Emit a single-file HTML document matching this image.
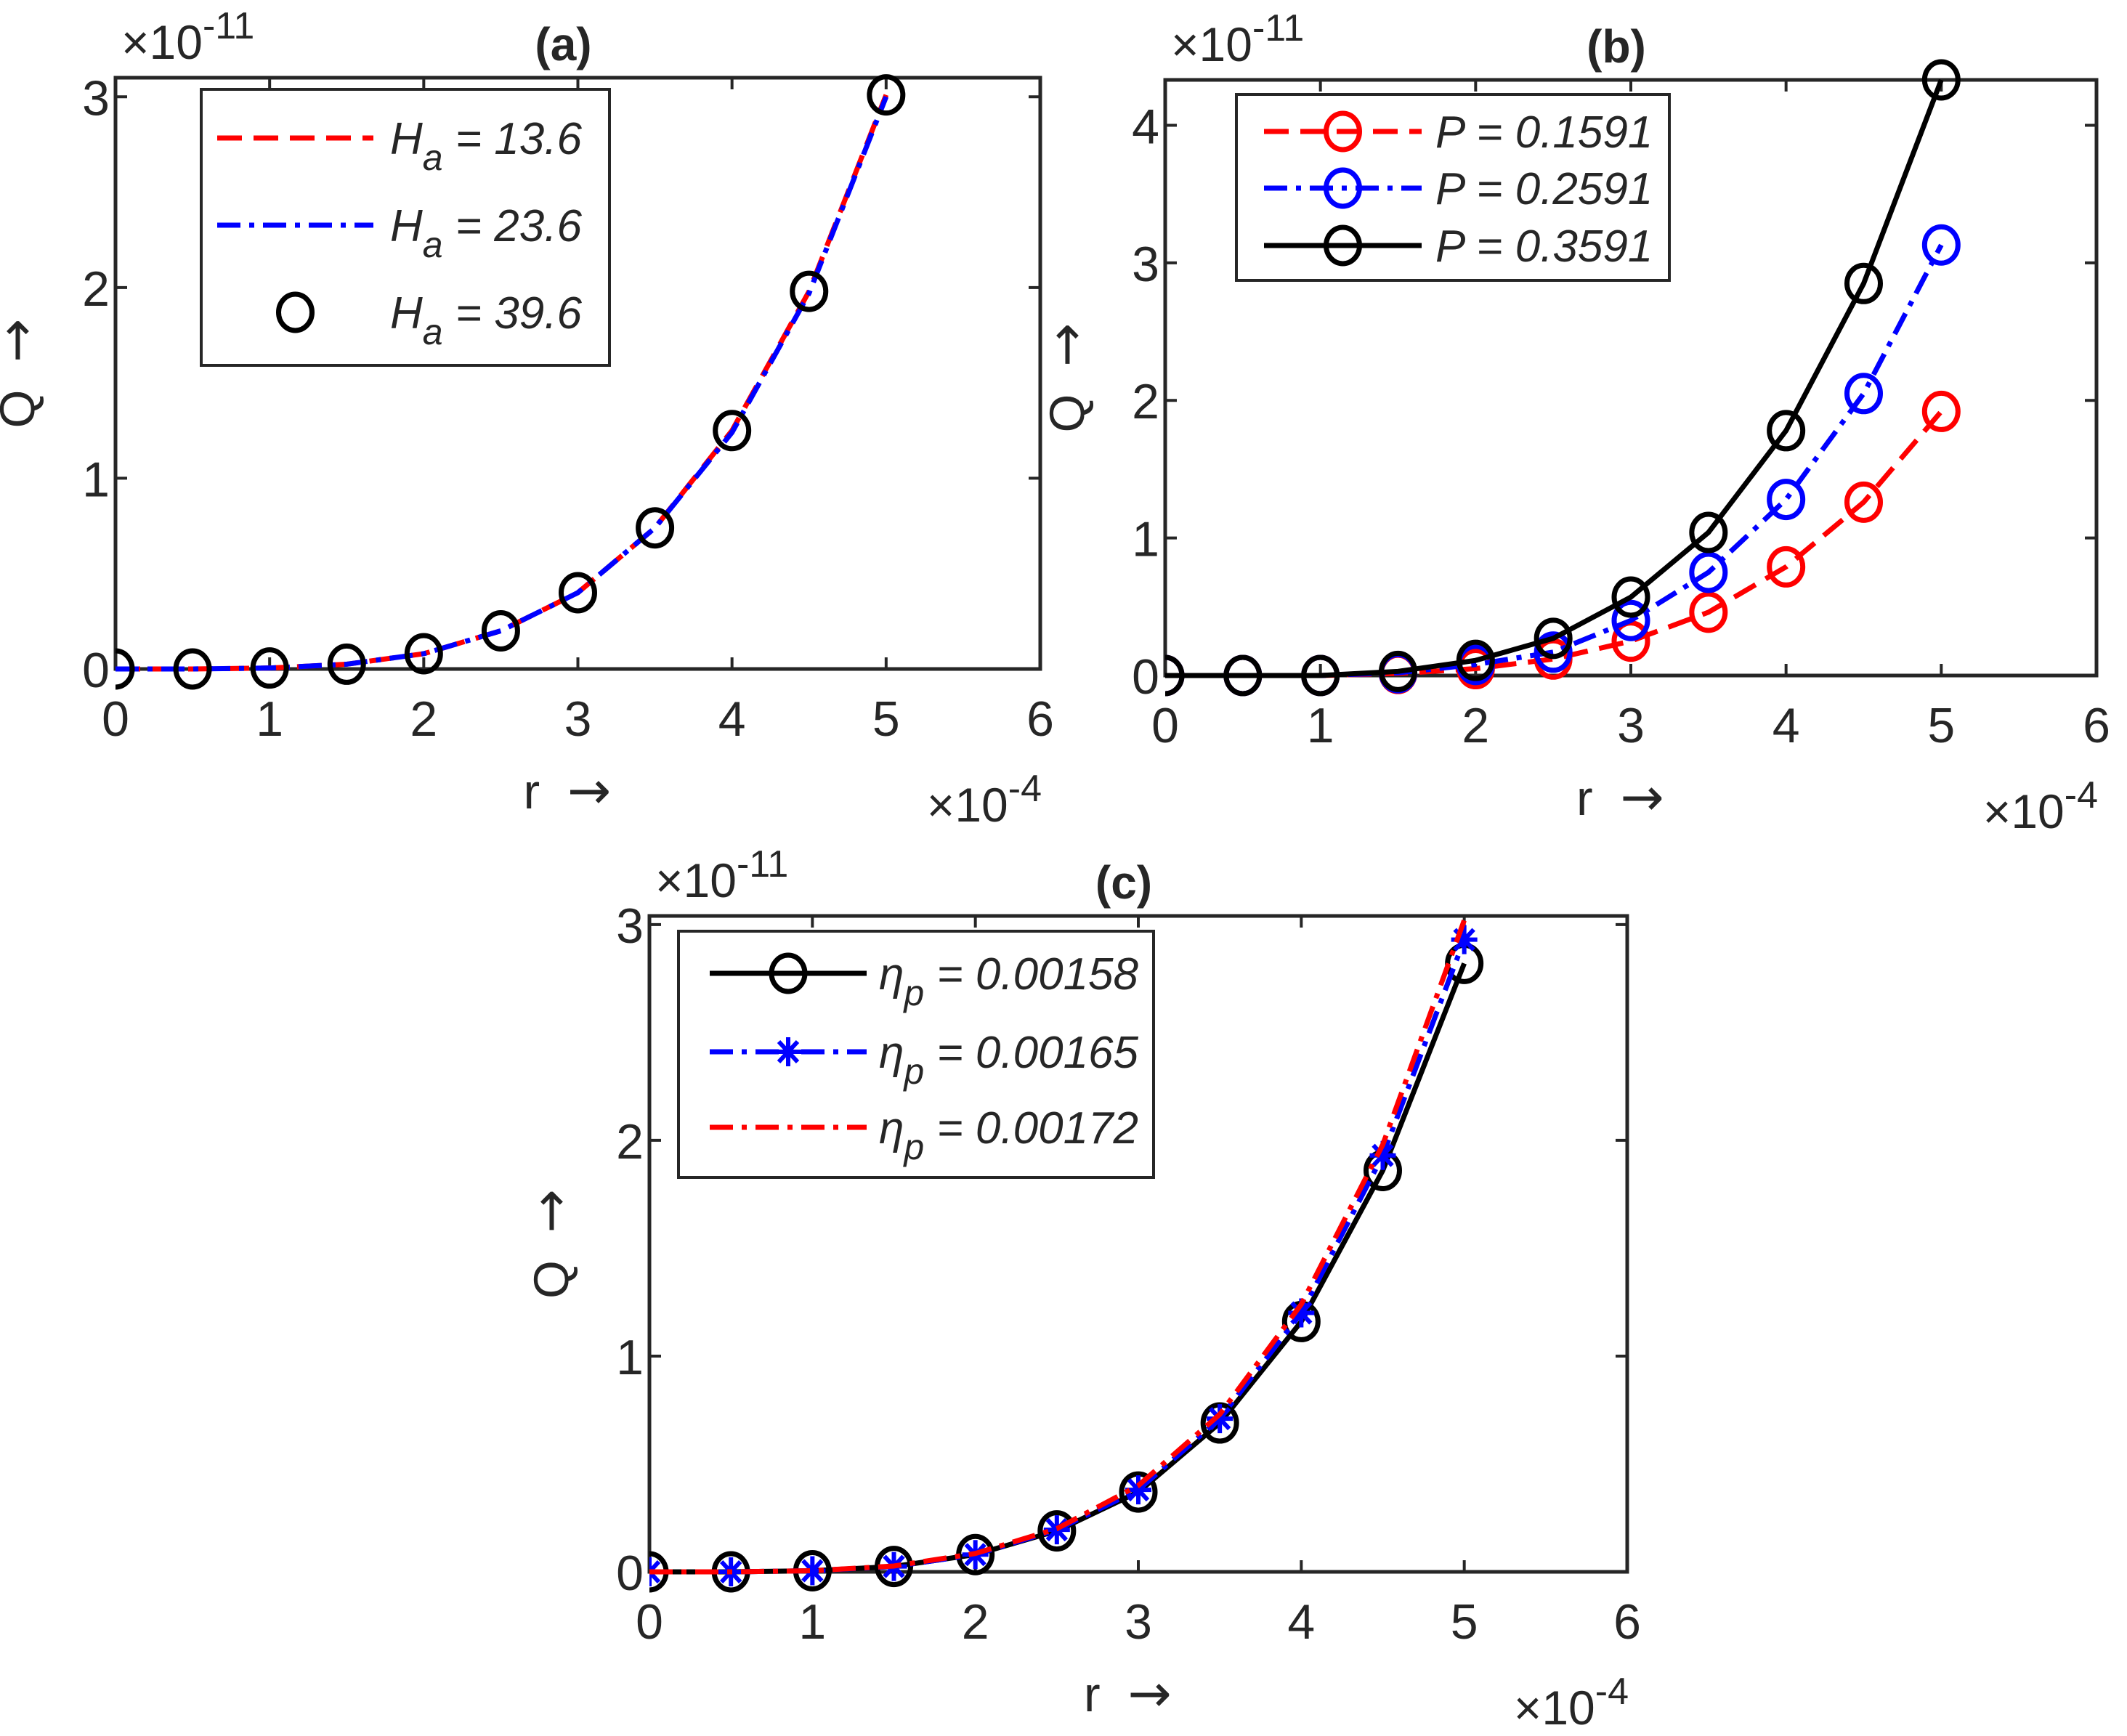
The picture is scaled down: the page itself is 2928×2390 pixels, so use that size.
<!DOCTYPE html>
<html><head><meta charset="utf-8">
<style>
html,body{margin:0;padding:0;background:#fff;}
svg{display:block;}
text{font-family:"Liberation Sans",sans-serif;fill:#262626;}
</style></head>
<body>
<svg id="fig" width="2928" height="2390" viewBox="0 0 2928 2390" xmlns="http://www.w3.org/2000/svg"></svg>
<script>
const NS="http://www.w3.org/2000/svg";
const rVals=[0,0.5,1,1.5,2,2.5,3,3.5,4,4.5,5];
// panel a
const aHa136=[0,0,0.005,0.025,0.08,0.2,0.4,0.74,1.25,1.98,3.01];
const aHa236=[0,0,0.005,0.025,0.08,0.2,0.4,0.74,1.24,1.97,3.0];
const aHa396=[0,0,0.005,0.025,0.08,0.2,0.4,0.74,1.25,1.98,3.01];
// panel b
const bP1591=[0,0,0,0.015,0.05,0.12,0.25,0.46,0.79,1.26,1.92];
const bP2591=[0,0,0,0.02,0.08,0.17,0.4,0.75,1.28,2.05,3.13];
const bP3591=[0,0,0,0.03,0.11,0.27,0.57,1.04,1.78,2.85,4.33];
// panel c
const cEta158=[0,0,0.005,0.025,0.08,0.19,0.37,0.69,1.16,1.86,2.82];
const cEta165=[0,0,0.005,0.025,0.08,0.195,0.38,0.71,1.2,1.93,2.93];
const cEta172=[0,0,0.005,0.027,0.085,0.2,0.4,0.73,1.24,1.98,3.02];
const xTicks=[0,1,2,3,4,5,6];
const yTicksA=[0,1,2,3];
const yTicksB=[0,1,2,3,4];
const yTicksC=[0,1,2,3];

const svg=document.getElementById('fig');
function el(tag,attrs,parent){const e=document.createElementNS(NS,tag);for(const k in attrs)e.setAttribute(k,attrs[k]);(parent||svg).appendChild(e);return e;}
const DASH={'--':'34 16','-.':'32 12 7 12','-':'none'};
const ARROW='\u00a0\u00a0<tspan font-family="DejaVu Sans" font-size="72">→</tspan>';

function panel(id,box,ymax,yTicks,series,title,legend){
  const g=el('g',{});
  
  
  const {L,R,T,B}=box;
  const sx=v=>L+(v/6)*(R-L);
  const sy=v=>B-(v/ymax)*(B-T);
  const clipId='clip'+id;
  const cp=el('clipPath',{id:clipId},g);el('rect',{x:L,y:T-30,width:R-L+30,height:B-T+60},cp);
  xTicks.forEach(t=>{
    const x=sx(t);
    const tk=el('path',{d:`M${x},${B}V${B-16}M${x},${T}V${T+16}`,stroke:'#262626','stroke-width':4},g);
    
    const lb=el('text',{x:x,y:B+92,'font-size':68,'text-anchor':'middle'},g);lb.textContent=t;
    
  });
  yTicks.forEach(t=>{
    const y=sy(t);
    const tk=el('path',{d:`M${L},${y}H${L+16}M${R},${y}H${R-16}`,stroke:'#262626','stroke-width':4},g);
    
    const lb=el('text',{x:L-8,y:y+25,'font-size':68,'text-anchor':'end'},g);lb.textContent=t;
    
  });
  const fr=el('rect',{x:L,y:T,width:R-L,height:B-T,fill:'none',stroke:'#262626','stroke-width':5},g);
  
  const ey=el('text',{x:L+8,y:T-26,'font-size':66},g);
  ey.innerHTML='×10<tspan dy="-28" font-size="52">-11</tspan>';
  
  const ex=el('text',{x:R+2,y:B+210,'font-size':66,'text-anchor':'end'},g);
  ex.innerHTML='×10<tspan dy="-28" font-size="52">-4</tspan>';
  
  const tt=el('text',{x:(L+R)/2-20,y:T-24,'font-size':64,'font-weight':'bold','text-anchor':'middle'},g);
  tt.textContent=title;
  const xl=el('text',{x:(L+R)/2-75,y:B+192,'font-size':68},g);
  xl.innerHTML='r'+ARROW;
  const yx=L-112,yc=(T+B)/2;
  const yl=el('text',{x:yx,y:yc,'font-size':68,'text-anchor':'middle',transform:`rotate(-90 ${yx} ${yc})`},g);
  yl.innerHTML='Q'+ARROW;
  series.forEach(s=>{
    const sg=el('g',{'clip-path':`url(#${clipId})`},g);
    
    if(s.ls){
      const d=rVals.map((x,i)=>(i?'L':'M')+sx(x)+','+sy(s.v[i])).join('');
      const p=el('path',{d,fill:'none',stroke:s.c,'stroke-width':7,'stroke-dasharray':DASH[s.ls]},sg);
      
    }
    if(s.m){
      rVals.forEach((x,i)=>{
        const cx=sx(x),cy=sy(s.v[i]);
        let m;
        if(s.m==='o') m=el('ellipse',{cx,cy,rx:23,ry:25,fill:'none',stroke:s.mc||s.c,'stroke-width':7},sg);
        else m=el('path',{d:`M${cx-18},${cy}H${cx+18}M${cx},${cy-20}V${cy+20}M${cx-13},${cy-14}L${cx+13},${cy+14}M${cx-13},${cy+14}L${cx+13},${cy-14}`,stroke:s.c,'stroke-width':6},sg);
        
      });
    }
  });
  const lg=el('g',{},g);
  
  el('rect',{x:legend.x,y:legend.y,width:legend.w,height:legend.h,fill:'#fff',stroke:'#262626','stroke-width':4},lg);
  legend.items.forEach(it=>{
    const eg=el('g',{},lg);
    
    if(it.ls) el('path',{d:`M${legend.lx1},${it.y}H${legend.lx2}`,stroke:it.c,'stroke-width':7,'stroke-dasharray':DASH[it.ls]},eg);
    const mx=(legend.lx1+legend.lx2)/2;
    if(it.m==='o') el('ellipse',{cx:mx,cy:it.y,rx:23,ry:25,fill:'none',stroke:it.c,'stroke-width':7},eg);
    if(it.m==='*') el('path',{d:`M${mx-18},${it.y}H${mx+18}M${mx},${it.y-20}V${it.y+20}M${mx-13},${it.y-14}L${mx+13},${it.y+14}M${mx-13},${it.y+14}L${mx+13},${it.y-14}`,stroke:it.c,'stroke-width':6},eg);
    const t=el('text',{x:legend.tx,y:it.y+22,'font-size':62,'font-style':'italic',fill:'#000'},eg);
    t.innerHTML=it.html;
  });
}

panel('a',{L:159,R:1432,T:107,B:921},3.1,yTicksA,[
  {name:'ha-13-6',v:aHa136,c:'#ff0000',ls:'--'},
  {name:'ha-23-6',v:aHa236,c:'#0000ff',ls:'-.'},
  {name:'ha-39-6',v:aHa396,c:'#000',m:'o'}
],'(a)',{x:277,y:123,w:562,h:380,lx1:299,lx2:514,tx:537,items:[
  {c:'#ff0000',ls:'--',y:190,html:'H<tspan dy="22" font-size="50">a</tspan><tspan dy="-22"> = 13.6</tspan>'},
  {c:'#0000ff',ls:'-.',y:310,html:'H<tspan dy="22" font-size="50">a</tspan><tspan dy="-22"> = 23.6</tspan>'},
  {c:'#000',m:'o',y:430,html:'H<tspan dy="22" font-size="50">a</tspan><tspan dy="-22"> = 39.6</tspan>'}
]});

panel('b',{L:1604,R:2886,T:110,B:930},4.33,yTicksB,[
  {name:'p-0-1591',v:bP1591,c:'#ff0000',ls:'--',m:'o'},
  {name:'p-0-2591',v:bP2591,c:'#0000ff',ls:'-.',m:'o'},
  {name:'p-0-3591',v:bP3591,c:'#000',ls:'-',m:'o'}
],'(b)',{x:1702,y:130,w:596,h:256,lx1:1740,lx2:1957,tx:1976,items:[
  {c:'#ff0000',ls:'--',m:'o',y:181,html:'P = 0.1591'},
  {c:'#0000ff',ls:'-.',m:'o',y:259,html:'P = 0.2591'},
  {c:'#000',ls:'-',m:'o',y:338,html:'P = 0.3591'}
]});

panel('c',{L:894,R:2240,T:1261,B:2164},3.04,yTicksC,[
  {name:'eta-0-00158',v:cEta158,c:'#000',ls:'-',m:'o'},
  {name:'eta-0-00165',v:cEta165,c:'#0000ff',ls:'-.',m:'*'},
  {name:'eta-0-00172',v:cEta172,c:'#ff0000',ls:'-.'}
],'(c)',{x:934,y:1282,w:654,h:339,lx1:977,lx2:1193,tx:1210,items:[
  {c:'#000',ls:'-',m:'o',y:1340,html:'η<tspan dy="22" font-size="50">p</tspan><tspan dy="-22"> = 0.00158</tspan>'},
  {c:'#0000ff',ls:'-.',m:'*',y:1448,html:'η<tspan dy="22" font-size="50">p</tspan><tspan dy="-22"> = 0.00165</tspan>'},
  {c:'#ff0000',ls:'-.',y:1552,html:'η<tspan dy="22" font-size="50">p</tspan><tspan dy="-22"> = 0.00172</tspan>'}
]});
</script>
</body></html>
